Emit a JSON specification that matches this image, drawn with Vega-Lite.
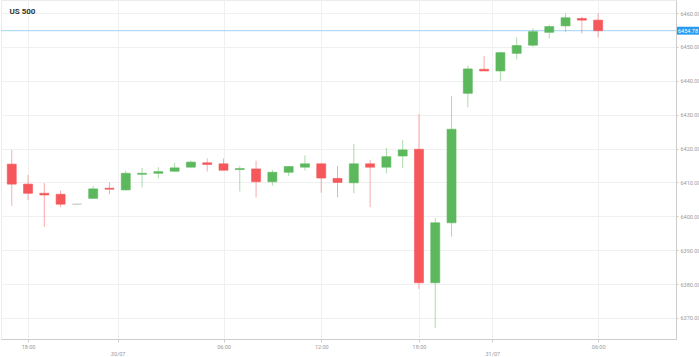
{
  "$schema": "https://vega.github.io/schema/vega-lite/v6.json",
  "width": 675,
  "height": 339,
  "padding": 0,
  "autosize": {"type": "pad"},
  "background": "#ffffff",
  "config": {
    "view": {"stroke": "#ececec"},
    "font": "Roboto",
    "axis": {"labelFont": "Roboto", "labelColor": "#9a9a9a", "labelFontSize": 5.5, "domainColor": "#cccccc", "tickColor": "#cccccc", "gridColor": "#f0f0f0", "title": null, "labelOverlap": false}
  },
  "title": {"text": "US 500", "anchor": "start", "dx": 9, "offset": -22, "fontSize": 8, "font": "Roboto", "fontWeight": "bold", "color": "#333333", "baseline": "alphabetic"},
  "datasets": {
    "candles": [
      {"i":0,"open":6415.4,"high":6419.6,"low":6403.1,"close":6409.5},
      {"i":1,"open":6409.5,"high":6412.2,"low":6404.8,"close":6406.8},
      {"i":2,"open":6406.8,"high":6409.8,"low":6396.9,"close":6406.3},
      {"i":3,"open":6406.5,"high":6407.6,"low":6402.7,"close":6403.6},
      {"i":4,"open":6403.6,"high":6403.6,"low":6403.6,"close":6403.6},
      {"i":5,"open":6405.3,"high":6409.0,"low":6405.3,"close":6408.1},
      {"i":6,"open":6408.3,"high":6410.0,"low":6406.5,"close":6408.0},
      {"i":7,"open":6407.8,"high":6413.5,"low":6407.6,"close":6412.7},
      {"i":8,"open":6412.4,"high":6414.3,"low":6408.5,"close":6412.7},
      {"i":9,"open":6412.7,"high":6414.5,"low":6411.2,"close":6413.2},
      {"i":10,"open":6413.3,"high":6415.8,"low":6413.3,"close":6414.3},
      {"i":11,"open":6414.5,"high":6416.4,"low":6414.5,"close":6416.0},
      {"i":12,"open":6415.8,"high":6417.1,"low":6413.2,"close":6415.3},
      {"i":13,"open":6415.5,"high":6417.1,"low":6413.6,"close":6413.6},
      {"i":14,"open":6413.8,"high":6414.9,"low":6407.3,"close":6414.1},
      {"i":15,"open":6414.0,"high":6416.4,"low":6405.6,"close":6410.2},
      {"i":16,"open":6410.2,"high":6413.7,"low":6409.0,"close":6413.0},
      {"i":17,"open":6413.0,"high":6414.8,"low":6411.9,"close":6414.7},
      {"i":18,"open":6414.5,"high":6418.0,"low":6413.5,"close":6415.5},
      {"i":19,"open":6415.5,"high":6415.6,"low":6407.0,"close":6411.3},
      {"i":20,"open":6411.2,"high":6414.9,"low":6405.6,"close":6410.0},
      {"i":21,"open":6409.9,"high":6421.4,"low":6406.8,"close":6415.5},
      {"i":22,"open":6415.5,"high":6416.6,"low":6402.7,"close":6414.5},
      {"i":23,"open":6414.5,"high":6420.2,"low":6412.7,"close":6417.6},
      {"i":24,"open":6417.8,"high":6422.5,"low":6414.2,"close":6419.6},
      {"i":25,"open":6419.8,"high":6430.2,"low":6378.6,"close":6380.4},
      {"i":26,"open":6380.4,"high":6399.4,"low":6367.1,"close":6398.1},
      {"i":27,"open":6398.1,"high":6435.5,"low":6394.0,"close":6425.7},
      {"i":28,"open":6436.3,"high":6444.5,"low":6432.2,"close":6443.5},
      {"i":29,"open":6443.4,"high":6447.3,"low":6442.9,"close":6442.9},
      {"i":30,"open":6442.9,"high":6448.6,"low":6439.9,"close":6448.3},
      {"i":31,"open":6448.1,"high":6452.8,"low":6446.3,"close":6450.4},
      {"i":32,"open":6450.5,"high":6455.5,"low":6450.0,"close":6454.5},
      {"i":33,"open":6454.3,"high":6456.5,"low":6452.5,"close":6456.0},
      {"i":34,"open":6456.2,"high":6459.9,"low":6454.3,"close":6458.6},
      {"i":35,"open":6458.4,"high":6458.9,"low":6454.0,"close":6457.9},
      {"i":36,"open":6457.9,"high":6459.9,"low":6452.8,"close":6454.78}
    ],
    "last": [{"price": 6454.78, "label": "6454.78"}]
  },
  "layer": [
    {
      "data": {"name": "last"},
      "mark": {"type": "rule", "color": "#9fd3f3", "strokeWidth": 1},
      "encoding": {
        "y": {"field": "price", "type": "quantitative", "scale": {"domain": [6363.8, 6463.84], "nice": false, "zero": false, "padding": 0},
          "axis": {"orient": "right", "values": [6370, 6380, 6390, 6400, 6410, 6420, 6430, 6440, 6450, 6460], "format": ".2f", "tickSize": 2, "labelPadding": 2, "labelBaseline": "middle", "labelOverlap": false}}
      }
    },
    {
      "data": {"name": "candles"},
      "mark": {"type": "rule", "strokeWidth": 1, "opacity": 0.5},
      "encoding": {
        "x": {"field": "i", "type": "quantitative", "scale": {"domain": [-0.66, 40.78], "nice": false, "zero": false, "padding": 0},
          "axis": {"orient": "bottom", "values": [1, 6.5, 13, 19, 25, 29.5, 36], "labelExpr": "datum.value == 6.5 ? ['', '30/07'] : datum.value == 29.5 ? ['', '31/07'] : (datum.value == 1 || datum.value == 25) ? '18:00' : (datum.value == 13 || datum.value == 36) ? '06:00' : '12:00'", "tickSize": 3, "labelPadding": 2, "labelLineHeight": 7, "labelBaseline": "top", "labelOverlap": false, "labelFlush": false}},
        "y": {"field": "low", "type": "quantitative",
          "axis": {"orient": "right", "values": [6370, 6380, 6390, 6400, 6410, 6420, 6430, 6440, 6450, 6460], "format": ".2f", "tickSize": 2, "labelPadding": 2, "labelBaseline": "middle", "labelOverlap": false}},
        "y2": {"field": "high"},
        "color": {"condition": [{"test": "datum.close > datum.open", "value": "#5cb85c"}, {"test": "datum.close < datum.open", "value": "#f5575a"}], "value": "#bbbbbb"}
      }
    },
    {
      "data": {"name": "candles"},
      "mark": {"type": "bar", "width": 9, "strokeWidth": 1, "strokeOpacity": 0.6},
      "encoding": {
        "x": {"field": "i", "type": "quantitative"},
        "y": {"field": "open", "type": "quantitative",
          "axis": {"orient": "right", "values": [6370, 6380, 6390, 6400, 6410, 6420, 6430, 6440, 6450, 6460], "format": ".2f", "tickSize": 2, "labelPadding": 2, "labelBaseline": "middle", "labelOverlap": false}},
        "y2": {"field": "close"},
        "fill": {"condition": [{"test": "datum.close > datum.open", "value": "#5cb85c"}, {"test": "datum.close < datum.open", "value": "#f5575a"}], "value": "#bbbbbb"},
        "stroke": {"condition": [{"test": "datum.close > datum.open", "value": "#5cb85c"}, {"test": "datum.close < datum.open", "value": "#f5575a"}], "value": "#bbbbbb"}
      }
    },
    {
      "data": {"name": "last"},
      "mark": {"type": "point", "shape": "M-1,-0.36L1,-0.36L1,0.36L-1,0.36Z", "filled": true, "color": "#2a9bef", "opacity": 1, "size": 484, "x": {"expr": "width + 12"}, "clip": false},
      "encoding": {"y": {"field": "price", "type": "quantitative",
          "axis": {"orient": "right", "values": [6370, 6380, 6390, 6400, 6410, 6420, 6430, 6440, 6450, 6460], "format": ".2f", "tickSize": 2, "labelPadding": 2, "labelBaseline": "middle", "labelOverlap": false}}}
    },
    {
      "data": {"name": "last"},
      "mark": {"type": "text", "color": "#ffffff", "fontSize": 5.5, "font": "Roboto", "align": "center", "baseline": "middle", "x": {"expr": "width + 12"}, "clip": false},
      "encoding": {"y": {"field": "price", "type": "quantitative",
          "axis": {"orient": "right", "values": [6370, 6380, 6390, 6400, 6410, 6420, 6430, 6440, 6450, 6460], "format": ".2f", "tickSize": 2, "labelPadding": 2, "labelBaseline": "middle", "labelOverlap": false}}, "text": {"field": "label"}}
    }
  ]
}
